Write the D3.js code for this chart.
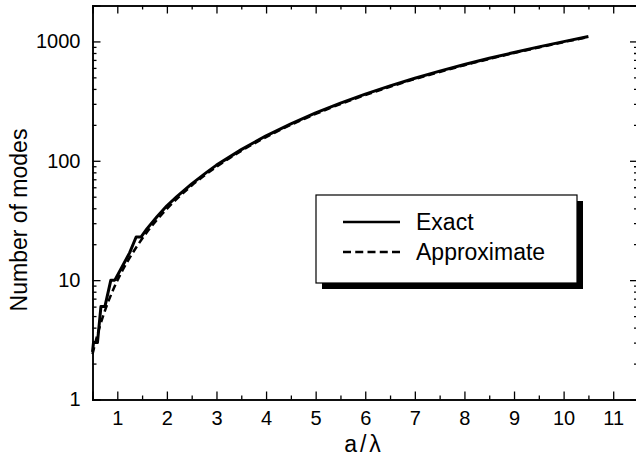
<!DOCTYPE html>
<html>
<head>
<meta charset="utf-8">
<script src="https://cdn.jsdelivr.net/npm/d3@7"></script>
<style>
  body { margin: 0; background: #fff; }
  text { font-family: Arial, "Liberation Sans", sans-serif; fill: #000; }
</style>
</head>
<body>
<div id="chart"></div>
<script>
// Data
var exactX = [0.5, 0.52, 0.6, 0.67, 0.75, 0.87, 0.95, 1.1, 1.25, 1.38, 1.48, 1.6, 1.8, 2, 2.2, 2.5, 2.8, 3, 3.5, 4, 4.5, 5, 5.5, 6, 6.5, 7, 7.5, 8, 8.5, 9, 9.5, 10, 10.5];
var exactY = [2.5, 3, 3, 6, 6, 10, 10, 13, 17, 23, 23, 27, 34, 42, 50, 64, 80, 92, 124, 162, 204, 252, 304, 362, 424, 492, 564, 640, 722, 808, 900, 996, 1098];

var approxX = [0.5, 0.6, 0.7, 0.8, 0.9, 1, 1.2, 1.4, 1.6, 1.8, 2, 2.5, 3, 3.5, 4, 4.5, 5, 5.5, 6, 6.5, 7, 7.5, 8, 8.5, 9, 9.5, 10, 10.5];
var approxY = [2.4, 3.5, 4.8, 6.3, 8, 9.9, 14.2, 19.3, 25.3, 32, 39.5, 62, 89, 121, 158, 200, 247, 299, 355, 417, 484, 555, 632, 713, 800, 891, 987, 1088];

var xTicks = [1, 2, 3, 4, 5, 6, 7, 8, 9, 10, 11];
var xMinor = [1.5, 2.5, 3.5, 4.5, 5.5, 6.5, 7.5, 8.5, 9.5, 10.5, 11.5];
var yTicks = [1, 10, 100, 1000];
var legendNames = ["Exact", "Approximate"];

// Set up the chart
var svgWidth = 636;
var svgHeight = 461;

var margin = { top: 5.5, right: -2, bottom: 61.5, left: 92.5 };
var width = svgWidth - margin.left - margin.right;
var height = svgHeight - margin.top - margin.bottom;

var svg = d3.select("#chart")
  .append("svg")
  .attr("width", svgWidth)
  .attr("height", svgHeight);

var chartGroup = svg.append("g")
  .attr("transform", `translate(${margin.left}, ${margin.top})`);

var x = d3.scaleLinear().domain([0.5, 11.5]).range([0, width]);
var y = d3.scaleLog().domain([1, 2000]).range([height, 0]);

// minor log ticks 2..9 per decade
var yMinor = [];
yTicks.forEach(function(d) {
  for (var k = 2; k <= 9; k++) {
    if (d * k < 2000) yMinor.push(d * k);
  }
});

// axes (ticks pointing inward)
function styleAxis(g) {
  g.select(".domain").attr("stroke", "#000").attr("stroke-width", 1.5);
  g.selectAll(".tick line").attr("stroke", "#000").attr("stroke-width", 1.3);
  g.selectAll(".tick text").style("font-size", "20px").attr("fill", "#000");
}

chartGroup.append("g")
  .attr("transform", `translate(0, ${height})`)
  .call(d3.axisBottom(x).tickValues(xMinor).tickSize(-4).tickFormat(""))
  .call(styleAxis);

chartGroup.append("g")
  .attr("transform", `translate(0, ${height})`)
  .call(d3.axisBottom(x).tickValues(xTicks).tickSize(-8).tickPadding(11).tickFormat(d3.format("d")))
  .call(styleAxis);

chartGroup.append("g")
  .call(d3.axisTop(x).tickValues(xMinor).tickSize(-4).tickFormat(""))
  .call(styleAxis);
chartGroup.append("g")
  .call(d3.axisTop(x).tickValues(xTicks).tickSize(-8).tickFormat(""))
  .call(styleAxis);

chartGroup.append("g")
  .call(d3.axisLeft(y).tickValues(yMinor).tickSize(-4).tickFormat(""))
  .call(styleAxis);
chartGroup.append("g")
  .call(d3.axisLeft(y).tickValues(yTicks).tickSize(-8).tickPadding(12).tickFormat(d3.format("d")))
  .call(styleAxis);

chartGroup.append("g")
  .attr("transform", `translate(${width}, 0)`)
  .call(d3.axisRight(y).tickValues(yMinor).tickSize(-4).tickFormat(""))
  .call(styleAxis);
chartGroup.append("g")
  .attr("transform", `translate(${width}, 0)`)
  .call(d3.axisRight(y).tickValues(yTicks).tickSize(-8).tickFormat(""))
  .call(styleAxis);

// lines
var exactData = exactX.map((d, i) => ({ x: d, y: exactY[i] }));
var approxData = approxX.map((d, i) => ({ x: d, y: approxY[i] }));

chartGroup.append("path")
  .datum(approxData)
  .attr("d", d3.line().x(d => x(d.x)).y(d => y(d.y)).curve(d3.curveMonotoneX))
  .attr("fill", "none")
  .attr("stroke", "#000")
  .attr("stroke-width", 2.5)
  .attr("stroke-dasharray", "7,4");

chartGroup.append("path")
  .datum(exactData)
  .attr("d", d3.line().x(d => x(d.x)).y(d => y(d.y)))
  .attr("fill", "none")
  .attr("stroke", "#000")
  .attr("stroke-width", 3)
  .attr("stroke-linejoin", "round");

// axis labels
svg.append("text")
  .attr("x", 364)
  .attr("y", 452)
  .attr("text-anchor", "middle")
  .attr("letter-spacing", "3px")
  .style("font-size", "23px")
  .text("a/\u03bb");

svg.append("text")
  .attr("transform", "rotate(-90)")
  .attr("x", -220)
  .attr("y", 27)
  .attr("text-anchor", "middle")
  .style("font-size", "23px")
  .text("Number of modes");

// legend with drop shadow
var legend = svg.append("g").attr("transform", "translate(316, 195)");
legend.append("rect")
  .attr("x", 6).attr("y", 6)
  .attr("width", 261).attr("height", 88)
  .attr("fill", "#000");
legend.append("rect")
  .attr("width", 261).attr("height", 88)
  .attr("fill", "#fff")
  .attr("stroke", "#000")
  .attr("stroke-width", 1.2);

legendNames.forEach(function(name, i) {
  var ly = 27 + i * 30;
  legend.append("line")
    .attr("x1", 27).attr("x2", 84)
    .attr("y1", ly).attr("y2", ly)
    .attr("stroke", "#000")
    .attr("stroke-width", 2.5)
    .attr("stroke-dasharray", i === 0 ? null : "8,4.25");
  legend.append("text")
    .attr("x", 100)
    .attr("y", ly + 8)
    .style("font-size", "23px")
    .text(name);
});
</script>
</body>
</html>
